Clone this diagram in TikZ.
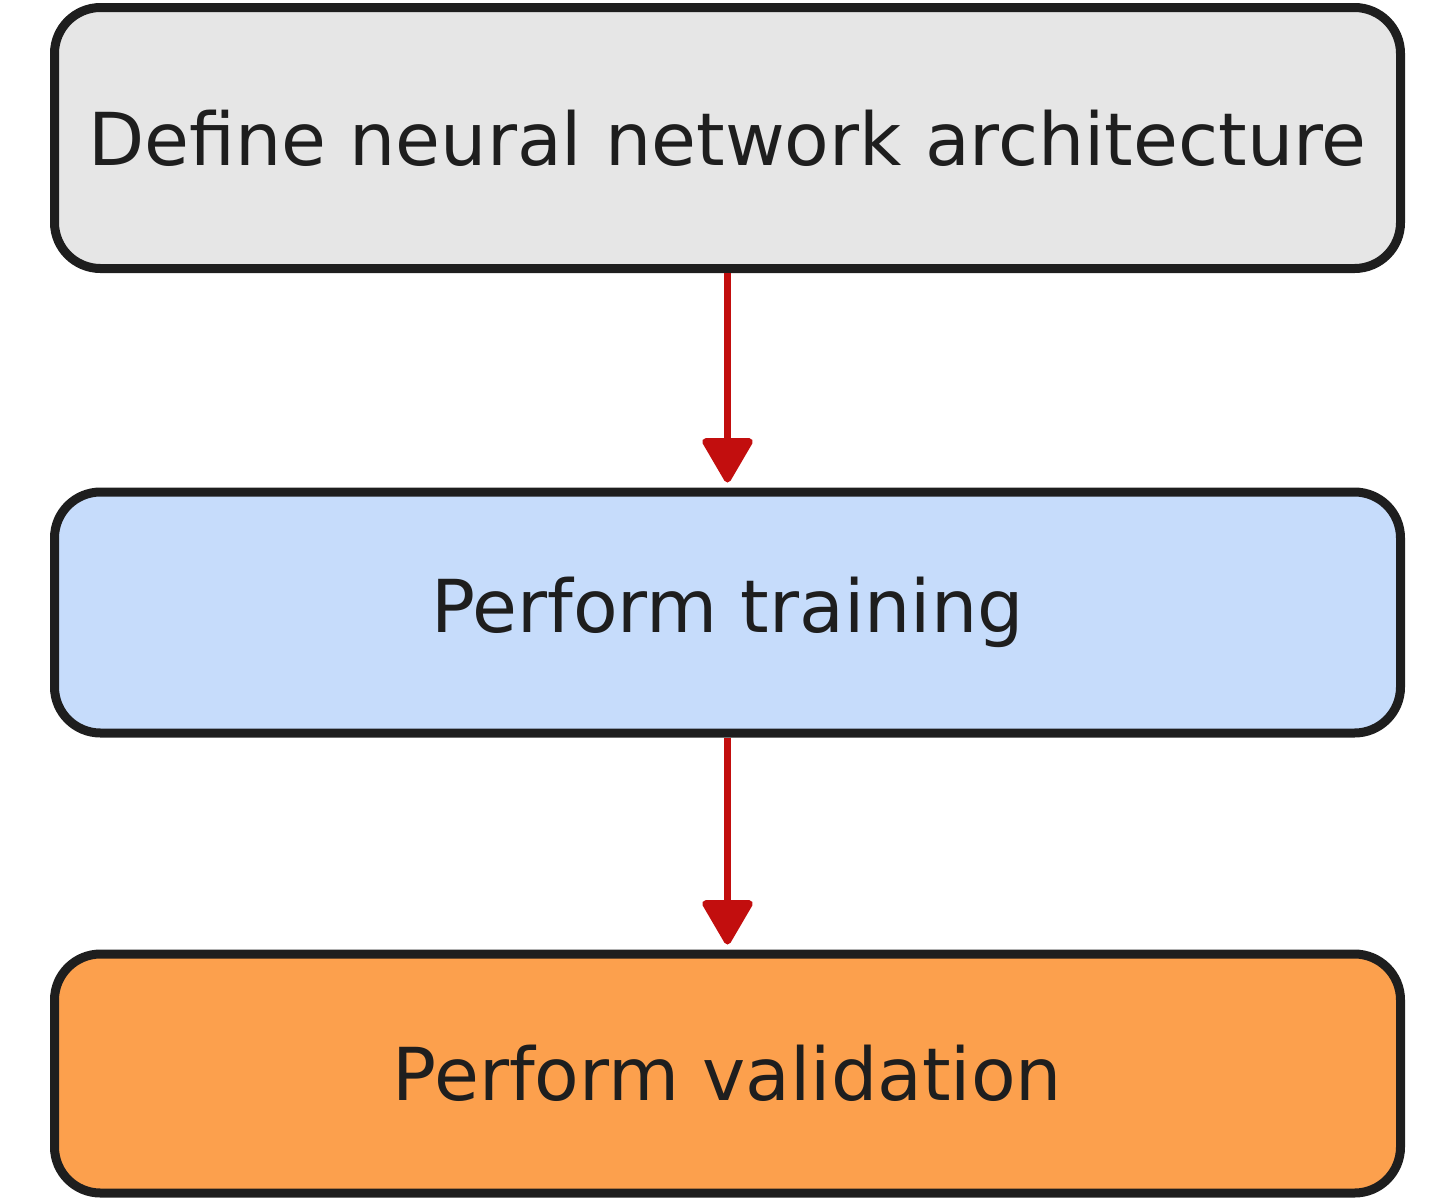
\documentclass[tikz,border=0pt]{standalone}
\usepackage{fontspec}
\setmainfont{DejaVu Sans}
\usetikzlibrary{arrows.meta}
\definecolor{edge}{HTML}{1E1E1E}
\definecolor{greyfill}{HTML}{E6E6E6}
\definecolor{bluefill}{HTML}{C6DCFB}
\definecolor{orangefill}{HTML}{FCA04D}
\definecolor{arrowred}{HTML}{C20E0E}
\tikzset{
  box/.style={draw=edge, line width=9pt, rounded corners=46pt, minimum width=1346pt, inner sep=0pt, text=edge, font=\fontsize{73}{88}\selectfont},
  flow/.style={draw=arrowred, line width=7pt, -{Triangle[length=48pt,width=54pt,round]}, shorten >=5pt}
}
\begin{document}
\begin{tikzpicture}[x=1pt,y=-1pt]
\useasboundingbox (0,0) rectangle (1456,1203);
\node[box, fill=greyfill, minimum height=261pt] (b1) at (727.5,138) {Define neural network architecture};
\node[box, fill=bluefill, minimum height=241pt] (b2) at (727.5,612.5) {Perform training};
\node[box, fill=orangefill, minimum height=239pt] (b3) at (727.5,1073.5) {Perform validation};
\draw[flow] (b1.south) -- (b2.north);
\draw[flow] (b2.south) -- (b3.north);
\end{tikzpicture}
\end{document}
